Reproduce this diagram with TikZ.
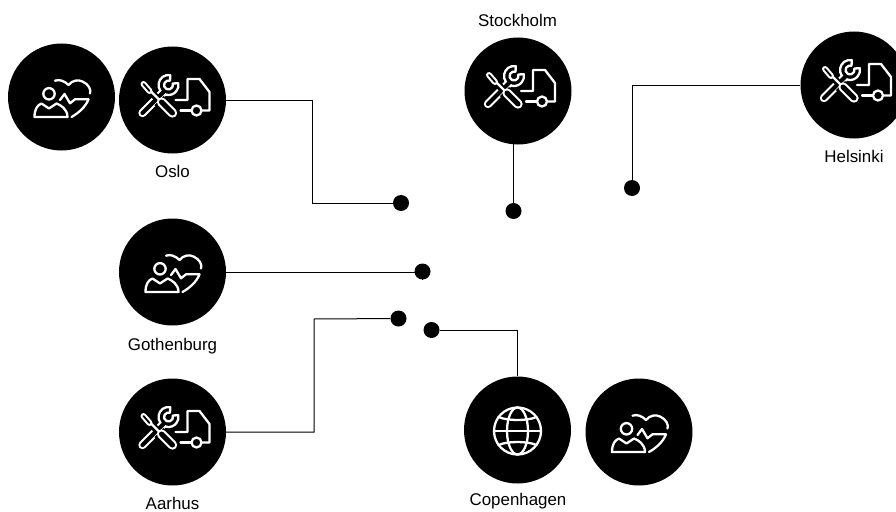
\documentclass[tikz,border=0pt]{standalone}
\usepackage{fontspec}
\setmainfont{Liberation Sans}
\tikzset{
  x=1pt,y=1pt,
  disc/.style={circle,fill=black,minimum size=107pt,inner sep=0pt},
  dot/.style={circle,fill=black,minimum size=16pt,inner sep=0pt},
  wire/.style={draw=black,line width=1pt},
  lab/.style={inner sep=0pt,anchor=base,font=\fontsize{16.9}{20}\selectfont},
  ico/.style={draw=white,line width=2.3pt,line join=round,line cap=round},
  toolicon/.pic={
    \draw[ico] (3,0) -- (15,0) -- (15,21) -- (27,21) -- (37,8) -- (37,-10.5) -- (29,-10.5);
    \draw[ico] (8,-10.5) -- (19,-10.5);
    \draw[ico] (24,-10.5) circle (5);
    \draw[white,line width=8.4pt,line cap=round] (-30,-13) -- (-10,7);
    \draw[ico,fill=black] ([shift={(-4,15)}]80:10) arc[start angle=80,end angle=370,radius=10] -- ([shift={(-4,15)}]20:4.5) arc[start angle=380,end angle=70,radius=4.5] -- cycle;
    \draw[black,line width=4.2pt,line cap=round] (-30,-13) -- (-9,8);
    \draw[black,line width=7pt] (-24,11) -- (-15,1);
    \draw[white,line width=6pt,line cap=round] (-29,16) -- (-23,9);
    \draw[black,line width=1.8pt,line cap=round] (-29,16) -- (-23,9);
    \draw[ico] (-21,8) -- (-13,0);
    \draw[black,line width=13pt] (-13.5,-.5) -- (-11,-3);
    \draw[white,line width=9.4pt,line cap=round] (-11,-2) -- (0,-13);
    \draw[black,line width=5pt,line cap=round] (-11,-2) -- (0,-13);
  },
  hearticon/.pic={
    \draw[ico] (-12.5,3.2) circle (5.7);
    \draw[ico] (-27,-20) .. controls (-27,-12) and (-24,-8) .. (-20,-6.5) -- (-12.5,-11.5) -- (-5,-6.5) .. controls (-1,-8) and (6,-12) .. (6,-20) -- cycle;
    \draw[ico] (-6.5,16.3) .. controls (-2,18) and (3,16) .. (7,12) .. controls (11,17) and (17,17.5) .. (21,15.5) .. controls (27,13) and (30,7) .. (28.5,3.5);
    \draw[ico] (-1.5,-3) -- (3,3) -- (8.5,-6.3) -- (13.5,-2.3) -- (27,-2.3) .. controls (24,-10) and (17,-16) .. (10,-20);
  },
  globeicon/.pic={
    \draw[ico] (0,-1) circle (23.5);
    \draw[ico] (0,-1) ellipse (10.5 and 23.5);
    \draw[ico] (-23.5,-1) -- (23.5,-1);
    \draw[ico] (-19,13) .. controls (-10,9) and (10,9) .. (19,13);
    \draw[ico] (-19,-15) .. controls (-10,-11) and (10,-11) .. (19,-15);
  },
}
\begin{document}
\begin{tikzpicture}
\useasboundingbox (0,0) rectangle (896,-511);
% discs
\node[disc] (oslohealth) at (61.5,-97) {};
\node[disc] (oslo) at (172.5,-100) {};
\node[disc] (stockholm) at (518,-91) {};
\node[disc] (helsinki) at (854,-85) {};
\node[disc] (gothenburg) at (172.5,-272) {};
\node[disc] (aarhus) at (172.5,-432) {};
\node[disc] (copenhagen) at (517.5,-430) {};
\node[disc] (copenhealth) at (639,-432) {};
% icons
\pic at (oslohealth) {hearticon};
\pic at (oslo) {toolicon};
\pic at (stockholm) {toolicon};
\pic at (helsinki) {toolicon};
\pic at (gothenburg) {hearticon};
\pic at (aarhus) {toolicon};
\pic at (copenhagen) {globeicon};
\pic at (copenhealth) {hearticon};
% terminals
\node[dot] (d1) at (401,-203) {};
\node[dot] (d2) at (513.5,-211) {};
\node[dot] (d3) at (632,-188) {};
\node[dot] (d4) at (422.5,-271.5) {};
\node[dot] (d5) at (398.5,-318.5) {};
\node[dot] (d6) at (431.5,-330) {};
\coordinate (b1) at (312,-203);
\coordinate (b2) at (513.5,-143);
\coordinate (b5) at (314,-319);
% connectors
\draw[wire] (oslo.east) -| (b1) -- (d1);
\draw[wire] (d2) -- (b2);
\draw[wire] (helsinki.west) -| (d3);
\draw[wire] (gothenburg.east) -- (gothenburg.east -| d4) -- (d4);
\draw[wire] (aarhus.east) -| (b5) -- (d5);
\draw[wire] (d6) -| (copenhagen.north);
% labels
\node[lab] (l1) at (172.5,-177.3) {Oslo};
\node[lab] (l2) at (517.5,-26.7) {Stockholm};
\node[lab] (l3) at (854,-162.5) {Helsinki};
\node[lab] (l4) at (172.5,-350.7) {Gothenburg};
\node[lab] (l5) at (172.5,-509.3) {Aarhus};
\node[lab] (l6) at (518,-505) {Copenhagen};
\end{tikzpicture}
\end{document}
